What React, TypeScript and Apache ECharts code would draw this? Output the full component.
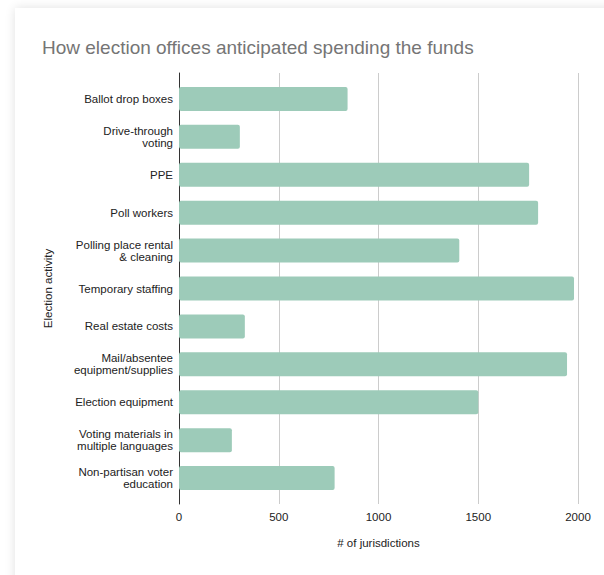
import React, { useEffect, useRef } from "react";
import * as echarts from "echarts";

const categories = [
  "Ballot drop boxes",
  "Drive-through\nvoting",
  "PPE",
  "Poll workers",
  "Polling place rental\n& cleaning",
  "Temporary staffing",
  "Real estate costs",
  "Mail/absentee\nequipment/supplies",
  "Election equipment",
  "Voting materials in\nmultiple languages",
  "Non-partisan voter\neducation",
];
const values = [845, 305, 1755, 1800, 1405, 1980, 330, 1945, 1500, 265, 780];
const xTicks = { min: 0, max: 2000, interval: 500 };

const FONT = "Arial";

export default function App() {
  const ref = useRef<HTMLDivElement>(null);
  useEffect(() => {
    if (!ref.current) return;
    const chart = echarts.init(ref.current, undefined, { renderer: "svg" });
    const label = { fontFamily: FONT, fontSize: 11.5, color: "#222" };
    chart.setOption({
      animation: false,
      textStyle: { fontFamily: FONT },
      title: {
        text: "How election offices anticipated spending the funds",
        left: 37,
        top: 33,
        textStyle: { fontFamily: FONT, fontSize: 19, fontWeight: "normal", color: "#757575" },
      },
      grid: [
        { left: 179, right: 26, top: 80, bottom: 78 },
        { left: 179, right: 26, top: 73, bottom: 71 },
      ],
      xAxis: [
        {
          gridIndex: 0,
          type: "value",
          min: xTicks.min,
          max: xTicks.max,
          interval: xTicks.interval,
          axisLine: { show: false },
          axisTick: { show: false },
          axisLabel: { show: false },
          splitLine: { show: false },
        },
        {
          gridIndex: 1,
          type: "value",
          min: xTicks.min,
          max: xTicks.max,
          interval: xTicks.interval,
          name: "# of jurisdictions",
          nameLocation: "middle",
          nameGap: 33,
          nameTextStyle: label,
          axisLine: { show: false },
          axisTick: { show: false },
          axisLabel: { ...label, margin: 7, formatter: (v: number) => String(v) },
          splitLine: { show: true, lineStyle: { color: "#cccccc", width: 1 } },
        },
      ],
      yAxis: [
        {
          gridIndex: 0,
          type: "category",
          data: categories,
          inverse: true,
          name: "Election activity",
          nameLocation: "middle",
          nameGap: 125,
          nameRotate: 90,
          nameTextStyle: label,
          axisLine: { show: false },
          axisTick: { show: false },
          axisLabel: { ...label, margin: 6, lineHeight: 12 },
          splitLine: { show: false },
        },
        {
          gridIndex: 1,
          type: "value",
          min: 0,
          max: 1,
          axisLine: { show: true, lineStyle: { color: "#333", width: 1 } },
          axisTick: { show: false },
          axisLabel: { show: false },
          splitLine: { show: false },
        },
      ],
      series: [
        {
          type: "bar",
          xAxisIndex: 0,
          yAxisIndex: 0,
          data: values,
          barWidth: 24,
          z: 3,
          itemStyle: { color: "#9dcbb9", borderRadius: 2 },
        },
      ],
    });
    return () => chart.dispose();
  }, []);
  return (
    <div style={{ position: "absolute", left: 0, top: 0, width: 604, height: 575, background: "#fff", overflow: "hidden" }}>
      <div
        style={{
          position: "absolute",
          left: 15,
          top: 8,
          width: 640,
          height: 620,
          background: "#fff",
          boxShadow: "0 0 10px rgba(0,0,0,0.12)",
        }}
      />
      <div ref={ref} style={{ position: "absolute", left: 0, top: 0, width: 604, height: 575 }} />
    </div>
  );
}
